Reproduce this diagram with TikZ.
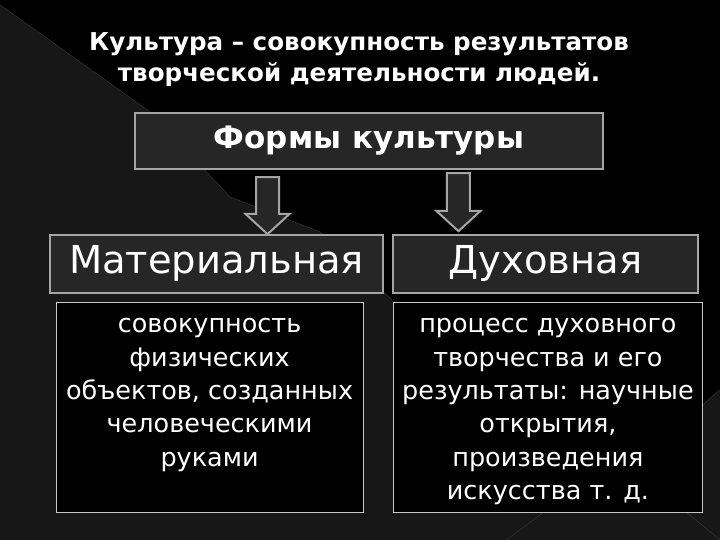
\documentclass[tikz,border=0pt]{standalone}
\usepackage{fontspec}
\setmainfont{DejaVu Sans}
\usetikzlibrary{shapes.arrows}
\definecolor{bgdark}{RGB}{23,23,23}
\definecolor{boxgray}{RGB}{38,38,38}
\definecolor{edgegray}{RGB}{165,165,165}
\definecolor{facetline}{RGB}{58,58,58}

\begin{document}
\begin{tikzpicture}[x=1pt,y=-1pt,
	headbox/.style={draw=edgegray,line width=2pt,fill=boxgray,text=white,inner sep=0pt},
	textbox/.style={draw=white!78!black,line width=0.9pt,fill=black,inner sep=0pt},
	bodytext/.style={text=white,align=center,inner sep=0pt,font=\fontsize{25.5}{33.4}\selectfont},
	downarrow/.style={single arrow,draw=edgegray,line width=2pt,fill=boxgray,rotate=-90,
		inner xsep=0pt,inner ysep=10.5pt,single arrow head extend=10.5pt,single arrow tip angle=95}]
	% background facets
	\fill[bgdark] (0,0) rectangle (720,540);
	\fill[black] (0,5) -- (150,112) -- (230,197) -- (320,232) -- (392,300) -- (703,405) -- (720,390) -- (720,0) -- (0,0) -- cycle;
	\draw[facetline] (0,5) -- (150,112) -- (230,197) -- (320,232) -- (392,300);
	\draw[facetline] (703,405) -- (720,390);
	\draw[facetline] (543,513) -- (507,540);
	\draw[facetline] (687,513) -- (720,540);
	% title
	\node[text=white,align=center,font=\bfseries\fontsize{24.6}{31}\selectfont] (title) at (359,60)
		{Культура – совокупность результатов\\творческой деятельности людей.};
	% top box and arrows
	\node[headbox,minimum width=468pt,minimum height=56pt,font=\bfseries\fontsize{31}{36}\selectfont] (forms) at (369,141) {Формы культуры};
	\node[downarrow,minimum height=57pt] (arrmat) at (267.5,200.5) {};
	\node[downarrow,minimum height=58pt] (arrdukh) at (458.5,197) {};
	% two kinds
	\node[headbox,minimum width=333pt,minimum height=58pt,font=\fontsize{38.5}{42}\selectfont] (mat) at (216.5,264) {Материальная};
	\node[headbox,minimum width=305pt,minimum height=58pt,font=\fontsize{38.5}{42}\selectfont] (dukh) at (545.5,264) {Духовная};
	% descriptions
	\node[textbox,minimum width=307pt,minimum height=210pt] (matbox) at (209.5,408) {};
	\node[textbox,minimum width=310pt,minimum height=210pt] (dukhbox) at (548,408) {};
	\node[bodytext,anchor=north,yshift=-16pt] (mattext) at (matbox.north)
		{совокупность\\физических\\объектов, созданных\\человеческими\\руками};
	\node[bodytext,anchor=north,yshift=-16pt] (dukhtext) at (dukhbox.north)
		{процесс духовного\\творчества и его\\результаты: научные\\открытия,\\произведения\\искусства т. д.};
\end{tikzpicture}
\end{document}
